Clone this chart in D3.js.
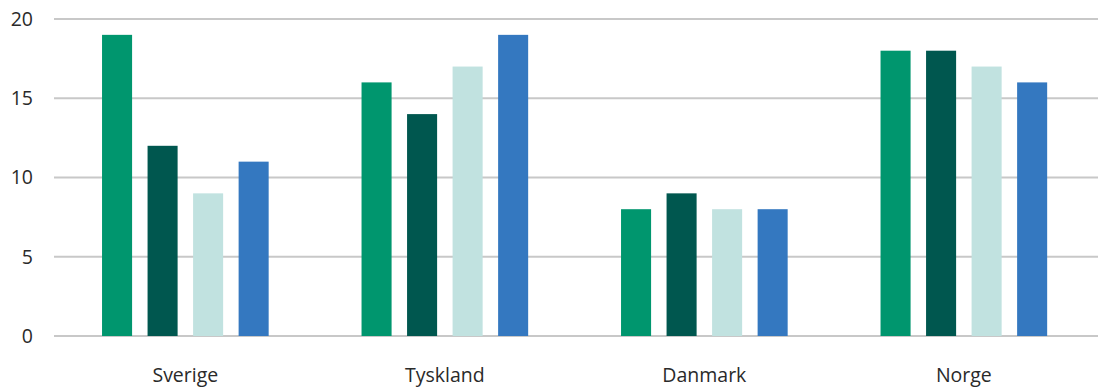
<!DOCTYPE html>
<html>
<head>
<meta charset="utf-8">
<script src="https://cdn.jsdelivr.net/npm/d3@7"></script>
<style>
  body { margin: 0; background: #fff; }
  text { font-family: "Open Sans", sans-serif; fill: #2a2a2a; }
</style>
</head>
<body>
<div id="chart"></div>
<script>
// data
var categories = ['Sverige', 'Tyskland', 'Danmark', 'Norge']
var seriesNames = ['s1', 's2', 's3', 's4']
var values = [
  [19, 12, 9, 11],
  [16, 14, 17, 19],
  [8, 9, 8, 8],
  [18, 18, 17, 16]
]
var yTicks = [0, 5, 10, 15, 20]
var colors = ['#00966e', '#00574f', '#c1e2e0', '#3478c0']

var width = 1098, height = 387
var margin = {top: 19, right: 4.4, bottom: 51, left: 55.6}

var svg = d3.select('#chart').append('svg')
  .attr('width', width)
  .attr('height', height)

var y = d3.scaleLinear()
  .domain([0, 20])
  .range([height - margin.bottom, margin.top])

var x0 = d3.scaleBand()
  .domain(categories)
  .range([margin.left, width - margin.right])

var x1 = d3.scaleBand()
  .domain(seriesNames)
  .range([0, x0.bandwidth()])
  .paddingInner(0.34)
  .paddingOuter(1.02)

// gridlines
var grid = svg.append('g')
grid.selectAll('line')
  .data(yTicks)
  .enter()
  .append('line')
  .attr('x1', 54)
  .attr('x2', width)
  .attr('y1', d => y(d))
  .attr('y2', d => y(d))
  .attr('stroke', '#c8c8c8')
  .attr('stroke-width', 2)

// y tick labels
svg.append('g').selectAll('text')
  .data(yTicks)
  .enter()
  .append('text')
  .attr('x', 33)
  .attr('y', d => y(d))
  .attr('dy', '0.35em')
  .style('text-anchor', 'end')
  .style('font-size', '19.5px')
  .text(d => d)

// bars
var groups = svg.append('g').selectAll('g')
  .data(values)
  .enter()
  .append('g')
  .attr('transform', (d, i) => 'translate(' + x0(categories[i]) + ',0)')

groups.selectAll('rect')
  .data(d => d)
  .enter()
  .append('rect')
  .attr('x', (d, j) => x1(seriesNames[j]))
  .attr('width', x1.bandwidth())
  .attr('y', d => y(d))
  .attr('height', d => y(0) - y(d))
  .attr('fill', (d, j) => colors[j])

// category labels
svg.append('g').selectAll('text')
  .data(categories)
  .enter()
  .append('text')
  .attr('x', d => x0(d) + x0.bandwidth() / 2)
  .attr('y', 381.5)
  .style('text-anchor', 'middle')
  .style('font-size', '19.5px')
  .text(d => d)
</script>
</body>
</html>
